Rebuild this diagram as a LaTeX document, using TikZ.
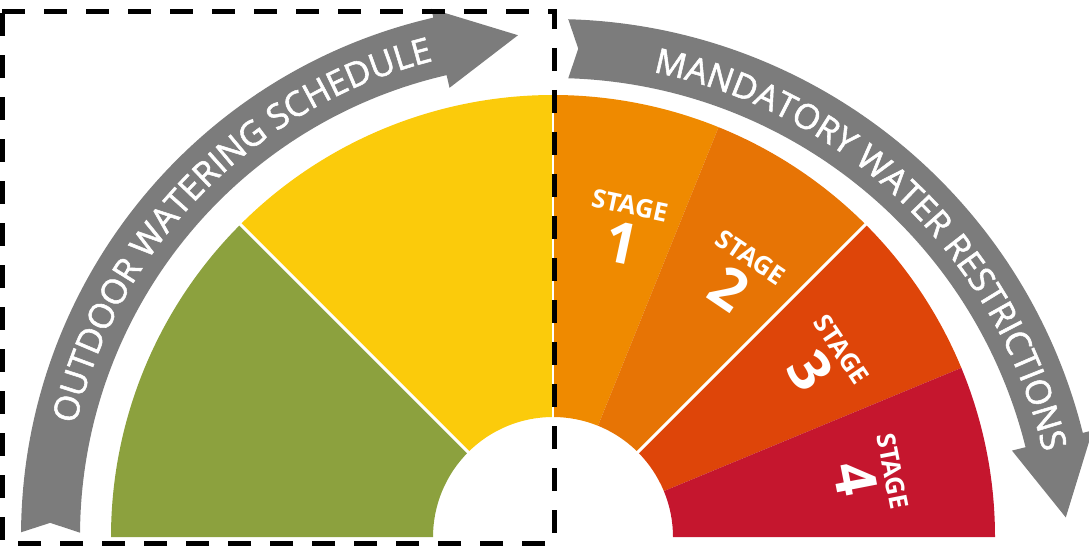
\documentclass[tikz,border=0pt]{standalone}
\usepackage{fontspec}
\newfontfamily\osans{Open Sans}
\newfontfamily\osanssemi{Open Sans}[FakeBold=1.6]
\usetikzlibrary{decorations.text}
\definecolor{ggreen}{HTML}{8CA13E}
\definecolor{gyellow}{HTML}{FBCB0B}
\definecolor{gstone}{HTML}{EF8A00}
\definecolor{gsttwo}{HTML}{E77405}
\definecolor{gstthree}{HTML}{DE4509}
\definecolor{gstfour}{HTML}{C5162E}
\definecolor{ggray}{HTML}{7C7C7C}
\newcommand\arcfmt{\osanssemi\fontsize{34.5}{34.5}\selectfont}
\begin{document}
\begin{tikzpicture}[x=1pt,y=1pt,
  stagetxt/.style={text=white, font=\osans\bfseries\fontsize{25.5}{25.5}\selectfont, inner sep=0pt, transform shape},
  stagenum/.style={text=white, font=\osans\bfseries\fontsize{57}{57}\selectfont, inner sep=0pt, transform shape},
  sepline/.style={white, line width=3pt},
  arclabel/.style={decorate, decoration={text along path, text={#1}, text align=center, text color=white}}
]
\useasboundingbox (0,0) rectangle (1089,547);
\coordinate (G) at (553,10);
\coordinate (L) at (553,11);
\coordinate (R) at (553,-18);

% gauge sectors
\begin{scope}[shift={(G)}]
  \fill[ggreen] (180:442) arc[start angle=180,end angle=135,radius=442] -- (135:120) arc[start angle=135,end angle=180,radius=120] -- cycle;
  \fill[gyellow] (135:442) arc[start angle=135,end angle=90,radius=442] -- (90:120) arc[start angle=90,end angle=135,radius=120] -- cycle;
  \fill[gstone] (90:442) arc[start angle=90,end angle=68,radius=442] -- (68:120) arc[start angle=68,end angle=90,radius=120] -- cycle;
  \fill[gsttwo] (68:442) arc[start angle=68,end angle=45,radius=442] -- (45:120) arc[start angle=45,end angle=68,radius=120] -- cycle;
  \fill[gstthree] (45:442) arc[start angle=45,end angle=22.5,radius=442] -- (22.5:120) arc[start angle=22.5,end angle=45,radius=120] -- cycle;
  \fill[gstfour] (22.5:442) arc[start angle=22.5,end angle=0,radius=442] -- (0:120) arc[start angle=0,end angle=22.5,radius=120] -- cycle;
  \draw[sepline] (135:118) -- (135:445);
  \draw[sepline, line width=2pt] (90:118) -- (90:445);
  \draw[sepline] (45:118) -- (45:445);
\end{scope}

% left arrow
\begin{scope}[shift={(L)}]
  \fill[ggray] (179.6:532) arc[start angle=179.6,end angle=103,radius=532]
    -- (103:541) -- (94:502) -- (103:460) -- (103:473)
    arc[start angle=103,end angle=179.6,radius=473] -- (178.5:503) -- cycle;
  \path[arclabel={|\arcfmt|OUTDOOR WATERING SCHEDULE}] (176:490) arc[start angle=176,end angle=95,radius=490];
\end{scope}

% right arrow
\begin{scope}[shift={(R)}]
  \fill[ggray] (88.4:546) arc[start angle=88.4,end angle=14,radius=546]
    -- (14:556) -- (5.3:515) -- (14:473) -- (14:487)
    arc[start angle=14,end angle=88.2,radius=487] -- (87.2:517) -- cycle;
  \path[arclabel={|\arcfmt|MANDATORY WATER RESTRICTIONS}] (85:503) arc[start angle=85,end angle=6.5,radius=503];
\end{scope}

% stage labels
\begin{scope}[shift={(626,323)}, rotate=-12]
  \node[stagetxt] (s1t) at (0,19) {STAGE};
  \node[stagenum] (s1n) at (0,-19) {1};
\end{scope}
\begin{scope}[shift={(740,274)}, rotate=-34]
  \node[stagetxt] (s2t) at (0,19) {STAGE};
  \node[stagenum] (s2n) at (0,-19) {2};
\end{scope}
\begin{scope}[shift={(826,187)}, rotate=-56]
  \node[stagetxt] (s3t) at (0,19) {STAGE};
  \node[stagenum] (s3n) at (0,-19) {3};
\end{scope}
\begin{scope}[shift={(874,72)}, rotate=-79]
  \node[stagetxt] (s4t) at (0,19) {STAGE};
  \node[stagenum] (s4n) at (0,-19) {4};
\end{scope}

% dashed frame
\draw[black, line width=5pt, dash pattern=on 23pt off 19pt] (2,535) -- (554,535) -- (554,4) -- (2,4) -- cycle;
\end{tikzpicture}
\end{document}
